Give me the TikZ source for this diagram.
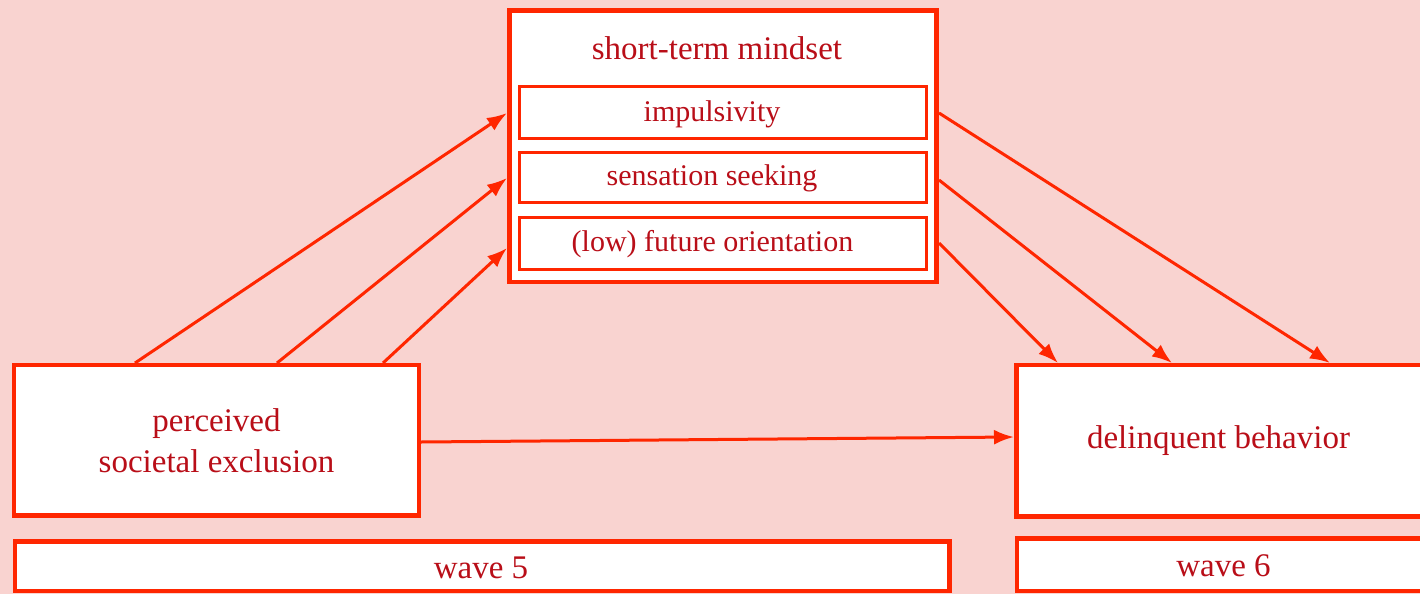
\documentclass[tikz,border=0pt]{standalone}
\usepackage{fontspec}
\setmainfont{Liberation Serif}
\usetikzlibrary{arrows.meta}
\definecolor{bgpink}{RGB}{249,211,208}
\definecolor{boxred}{RGB}{255,38,0}
\definecolor{txtred}{RGB}{185,14,24}
\tikzset{
  bigbox/.style={draw=boxred, fill=white, line width=4.5pt, inner sep=0pt, text=txtred, align=center, font=\fontsize{33}{41}\selectfont},
  itembox/.style={draw=boxred, fill=white, line width=3pt, inner sep=0pt},
  itemlbl/.style={text=txtred, inner sep=0pt, font=\fontsize{30}{36}\selectfont},
  arr/.style={draw=boxred, line width=3pt, -{Latex[length=20pt,width=15pt]}},
  lbl/.style={text=txtred, inner sep=0pt, font=\fontsize{33}{41}\selectfont}
}
\begin{document}
\begin{tikzpicture}[x=1pt,y=-1pt]
\fill[bgpink] (0,0) rectangle (1420,594);
\useasboundingbox (0,0) rectangle (1420,594);
\clip (0,0) rectangle (1420,594);
% mindset box
\node[bigbox, minimum width=427pt, minimum height=271.5pt] (stm) at (723,146.25) {};
\node[lbl] (stmt) at (717,48) {short-term mindset};
\node[itembox, minimum width=406.5pt, minimum height=52pt] (imp) at (722.75,112.5) {};
\node[itembox, minimum width=406.5pt, minimum height=50pt] (sen) at (722.75,177.5) {};
\node[itembox, minimum width=406.5pt, minimum height=51.5pt] (fut) at (722.75,243.25) {};
\node[itemlbl] (impt) at (712,114) {impulsivity};
\node[itemlbl] (sent) at (712,178) {sensation seeking};
\node[itemlbl] (futt) at (712.5,244) {(low) future orientation};
% left and right boxes
\node[bigbox, minimum width=405pt, minimum height=150.5pt] (pse) at (216.5,440.25) {perceived\\societal exclusion};
\node[bigbox, minimum width=405.5pt, minimum height=151.5pt] (del) at (1219.25,440.75) {};
\node[lbl] (delt) at (1218.5,441) {delinquent behavior};
% wave boxes
\node[bigbox, minimum width=934.5pt, minimum height=49.5pt] (w5) at (482.25,566.25) {};
\node[lbl] (w5t) at (481,568) {wave 5};
\node[bigbox, minimum width=411pt, minimum height=52.5pt] (w6) at (1222.5,564.75) {};
\node[lbl] (w6t) at (1223.5,566) {wave 6};
% connector end points
\coordinate (a1s) at (135,363);
\coordinate (a2s) at (277,363);
\coordinate (a3s) at (383,363);
\coordinate (a1e) at (507,113);
\coordinate (a2e) at (507,178);
\coordinate (a3e) at (507,248);
\coordinate (b1s) at (939,113);
\coordinate (b2s) at (939,180);
\coordinate (b3s) at (939,243);
\coordinate (b1e) at (1330,363);
\coordinate (b2e) at (1172,363);
\coordinate (b3e) at (1058,363);
\coordinate (hs) at (421,442);
\coordinate (he) at (1014,437);
% arrows
\draw[arr] (a1s) -- (a1e);
\draw[arr] (a2s) -- (a2e);
\draw[arr] (a3s) -- (a3e);
\draw[arr] (b1s) -- (b1e);
\draw[arr] (b2s) -- (b2e);
\draw[arr] (b3s) -- (b3e);
\draw[arr] (hs) -- (he);
\end{tikzpicture}
\end{document}
